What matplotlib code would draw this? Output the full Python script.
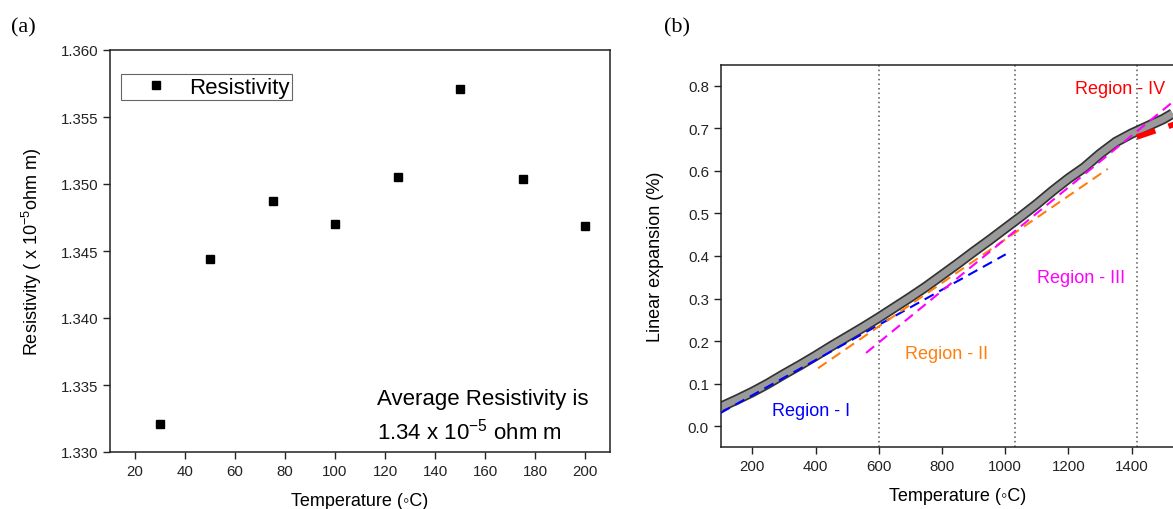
import matplotlib
matplotlib.use('Agg')
import matplotlib.pyplot as plt

plt.rcParams['font.family'] = ['Liberation Sans', 'DejaVu Sans']
plt.rcParams['mathtext.default'] = 'regular'

# (a) resistivity
res_temp = [30, 50, 75, 100, 125, 150, 175, 200]
res_vals = [1.3321, 1.3444, 1.3487, 1.3470, 1.3505, 1.3571, 1.3504, 1.3469]

# (b) dilatometer curve
exp_temp = [100, 150, 200, 250, 300, 350, 400, 450, 500, 550, 600, 650, 700, 750,
            800, 850, 900, 950, 1000, 1050, 1100, 1150, 1200, 1250, 1300, 1350,
            1400, 1450, 1500, 1530]
exp_vals = [0.045, 0.062, 0.080, 0.100, 0.122, 0.143, 0.165, 0.188, 0.210, 0.232,
            0.255, 0.279, 0.303, 0.328, 0.355, 0.382, 0.410, 0.437, 0.465, 0.493,
            0.522, 0.553, 0.582, 0.608, 0.640, 0.668, 0.688, 0.705, 0.722, 0.735]

# linear fits for each region (start/end points)
region_names = ['Region - I', 'Region - II', 'Region - III', 'Region - IV']
region_colors = ['#0000ff', '#ff7f0e', '#ff00ff', '#ff0000']
fit_T0 = [100, 408, 560, 1417]
fit_T1 = [1002, 1325, 1540, 1600]
fit_v0 = [0.031, 0.136, 0.172, 0.680]
fit_v1 = [0.404, 0.605, 0.768, 0.726]
label_T = [262, 682, 1100, 1221]
label_v = [0.036, 0.171, 0.349, 0.794]
boundary_T = [600, 1030, 1417]

W, H = 1173, 510
fig = plt.figure(figsize=(W / 100, H / 100), dpi=100)

def px_axes(l, t, r, b):
    return fig.add_axes([l / W, 1 - b / H, (r - l) / W, (b - t) / H])

deg = '(\u25e6C)'

# ---------- panel (a)
ax = px_axes(110, 51, 610, 453)
ax.plot(res_temp, res_vals, 's', color='black', ms=6, label='Resistivity')
ax.set_xlim(10, 210)
ax.set_ylim(1.330, 1.360)
ax.set_xticks(range(20, 201, 20))
ax.set_yticks([1.330, 1.335, 1.340, 1.345, 1.350, 1.355, 1.360])
ax.yaxis.set_major_formatter(matplotlib.ticker.FormatStrFormatter('%.3f'))
ax.tick_params(direction='out', length=5, width=1, labelsize=10.8, colors='#222222')
for s in ax.spines.values():
    s.set_linewidth(1.1)
    s.set_color('#222222')
ax.set_xlabel('Temperature ' + deg, fontsize=13, labelpad=10)
ax.set_ylabel(r'Resistivity ( x 10$^{-5}$ohm m)', fontsize=13, labelpad=12)
leg = ax.legend(loc='upper left', bbox_to_anchor=(0.022, 0.94), borderaxespad=0,
                fancybox=False, edgecolor='#666666', framealpha=1, fontsize=16,
                handlelength=2.9, handletextpad=0.05, borderpad=0.12)
leg.get_frame().set_linewidth(0.8)
ax.text(116.8, 1.3340, 'Average Resistivity is', fontsize=16, va='center')
ax.text(116.8, 1.3316, '1.34 x 10$^{-5}$ ohm m', fontsize=16, va='center')

# ---------- panel (b)
bx = px_axes(720.7, 65.7, 720.7 + 1500 * 0.316, 448.3)
for T in boundary_T:
    bx.axvline(T, color='#555555', ls=(0, (1, 2)), lw=1.1, zorder=1)
for T0, T1, v0, v1, c in zip(fit_T0, fit_T1, fit_v0, fit_v1, region_colors):
    if c == '#ff0000':
        bx.plot([T0, T1], [v0, v1], color=c, lw=4, ls=(0, (3.5, 2.5)), zorder=3)
    else:
        bx.plot([T0, T1], [v0, v1], color=c, lw=1.5, ls=(0, (5, 3)), zorder=3)
bx.plot(exp_temp, exp_vals, color='#333333', lw=7.5, solid_capstyle='butt', zorder=2)
bx.plot(exp_temp, exp_vals, color='#9a9a9a', lw=5, solid_capstyle='butt', zorder=2)
for name, c, T, v in zip(region_names, region_colors, label_T, label_v):
    bx.text(T, v, name, color=c, fontsize=13, va='center', ha='left')
bx.set_xlim(100, 1600)
bx.set_ylim(-0.05, 0.85)
bx.set_xticks(range(200, 1401, 200))
bx.set_yticks([0.0, 0.1, 0.2, 0.3, 0.4, 0.5, 0.6, 0.7, 0.8])
bx.yaxis.set_major_formatter(matplotlib.ticker.FormatStrFormatter('%.1f'))
bx.tick_params(direction='out', length=5, width=1, labelsize=10.8, colors='#222222')
for s in bx.spines.values():
    s.set_linewidth(1.1)
    s.set_color('#222222')
bx.set_xlabel('Temperature ' + deg, fontsize=13, labelpad=10)
bx.set_ylabel('Linear expansion (%)', fontsize=13, labelpad=17)

fig.text(11 / W, 1 - 28 / H, '(a)', fontsize=16, family='Liberation Serif', va='center')
fig.text(664 / W, 1 - 28 / H, '(b)', fontsize=16, family='Liberation Serif', va='center')

fig.savefig('out.png', dpi=100)
